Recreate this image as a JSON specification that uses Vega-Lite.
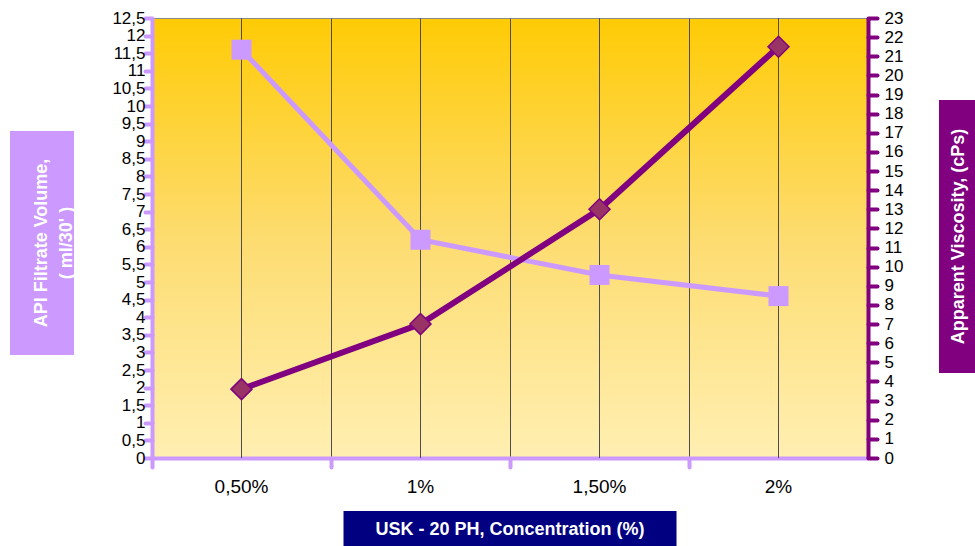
{
  "$schema": "https://vega.github.io/schema/vega-lite/v6.json",
  "padding": {"left": 10, "top": 8, "right": 0, "bottom": 0},
  "background": "white",
  "config": {
    "view": {"stroke": null},
    "font": "Liberation Sans"
  },
  "datasets": {
    "main": [
      {"conc": "0,50%", "filtrate": 11.6, "visc": 3.6},
      {"conc": "1%", "filtrate": 6.2, "visc": 7.0},
      {"conc": "1,50%", "filtrate": 5.2, "visc": 13.0},
      {"conc": "2%", "filtrate": 4.6, "visc": 21.5}
    ],
    "titleA": [{"t": ["API Filtrate Volume,", "( ml/30' )"]}],
    "titleB": [{"t": "USK - 20 PH, Concentration (%)"}],
    "titleC": [{"t": "Apparent Viscosity, (cPs)"}]
  },
  "bounds": "full",
  "spacing": 35,
  "hconcat": [
    {
      "bounds": "flush",
      "spacing": 0,
      "vconcat": [
        {"width": 64, "height": 113, "data": {"values": []}, "mark": "point", "encoding": {}},
        {
          "width": 64, "height": 224,
          "view": {"fill": "#CC99FF", "stroke": null},
          "data": {"name": "titleA"},
          "mark": {"type": "text", "angle": 270, "color": "white", "fontWeight": "bold", "fontSize": 18, "lineHeight": 25, "align": "center", "baseline": "middle"},
          "encoding": {"text": {"field": "t", "type": "nominal"}}
        }
      ]
    },
    {
      "bounds": "flush",
      "spacing": 53,
      "center": true,
      "vconcat": [
        {
          "width": 716, "height": 440,
          "data": {"name": "main"},
          "view": {
            "fill": {"gradient": "linear", "x1": 0, "y1": 0, "x2": 0, "y2": 1,
              "stops": [{"offset": 0, "color": "#FFCB05"}, {"offset": 0.5, "color": "#FDDC70"}, {"offset": 1, "color": "#FFEFB2"}]},
            "stroke": "#888888", "strokeWidth": 1
          },
          "encoding": {
            "x": {
              "field": "conc", "type": "ordinal", "sort": null,
              "scale": {"paddingInner": 0, "paddingOuter": 0},
              "axis": {
                "title": null, "bandPosition": 0, "labelAngle": 0,
                "labelFontSize": 19, "labelColor": "#000000", "labelPadding": 10,
                "domainColor": "#CC99FF", "domainWidth": 4,
                "tickColor": "#CC99FF", "tickWidth": 4, "tickSize": 9, "tickCap": "round",
                "grid": true, "gridColor": "#4d4d4d", "gridWidth": 1, "gridOpacity": 1, "zindex": 0
              }
            }
          },
          "layer": [
            {"mark": {"type": "rule", "color": "#4d4d4d", "strokeWidth": 1}, "encoding": {}},
            {
              "encoding": {
                "y": {
                  "field": "filtrate", "type": "quantitative",
                  "scale": {"domain": [0, 12.5], "nice": false, "zero": true},
                  "axis": {
                    "title": null,
                    "values": [0, 0.5, 1, 1.5, 2, 2.5, 3, 3.5, 4, 4.5, 5, 5.5, 6, 6.5, 7, 7.5, 8, 8.5, 9, 9.5, 10, 10.5, 11, 11.5, 12, 12.5],
                    "labelExpr": "replace(toString(datum.value), '.', ',')",
                    "labelFontSize": 17, "labelColor": "#000000", "labelPadding": 0, "labelOverlap": false,
                    "domainColor": "#CC99FF", "domainWidth": 4,
                    "tickColor": "#CC99FF", "tickWidth": 4, "tickSize": 7, "tickCap": "round",
                    "grid": false, "zindex": 1
                  }
                }
              },
              "layer": [
                {"mark": {"type": "line", "color": "#CC99FF", "strokeWidth": 5}},
                {"mark": {"type": "point", "shape": "square", "size": 400, "filled": true, "color": "#CC99FF", "opacity": 1}}
              ]
            },
            {
              "encoding": {
                "y": {
                  "field": "visc", "type": "quantitative",
                  "scale": {"domain": [0, 23], "nice": false, "zero": true},
                  "axis": {
                    "orient": "right", "title": null,
                    "values": [0, 1, 2, 3, 4, 5, 6, 7, 8, 9, 10, 11, 12, 13, 14, 15, 16, 17, 18, 19, 20, 21, 22, 23],
                    "labelFontSize": 17, "labelColor": "#000000", "labelPadding": 7, "labelOverlap": false,
                    "domainColor": "#800080", "domainWidth": 4,
                    "tickColor": "#800080", "tickWidth": 4, "tickSize": 9, "tickCap": "round",
                    "grid": false, "zindex": 1
                  }
                }
              },
              "layer": [
                {"mark": {"type": "line", "color": "#800080", "strokeWidth": 6}},
                {"mark": {"type": "point", "shape": "diamond", "size": 441, "filled": true, "fill": "#993366", "stroke": "#800080", "strokeWidth": 1.5, "opacity": 1}}
              ]
            }
          ],
          "resolve": {"scale": {"y": "independent"}}
        },
        {
          "width": 333, "height": 37,
          "view": {"fill": "#000080", "stroke": null},
          "data": {"name": "titleB"},
          "mark": {"type": "text", "color": "white", "fontWeight": "bold", "fontSize": 18, "align": "center", "baseline": "middle"},
          "encoding": {"text": {"field": "t", "type": "nominal"}}
        }
      ]
    },
    {
      "bounds": "flush",
      "spacing": 0,
      "vconcat": [
        {"width": 39, "height": 82, "data": {"values": []}, "mark": "point", "encoding": {}},
        {
          "width": 39, "height": 273,
          "view": {"fill": "#800080", "stroke": null},
          "data": {"name": "titleC"},
          "mark": {"type": "text", "angle": 270, "color": "white", "fontWeight": "bold", "fontSize": 18, "align": "center", "baseline": "middle"},
          "encoding": {"text": {"field": "t", "type": "nominal"}}
        }
      ]
    }
  ]
}
